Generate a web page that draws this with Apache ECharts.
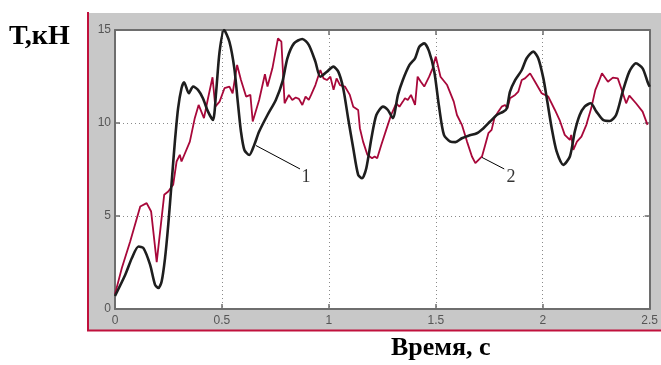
<!DOCTYPE html>
<html><head><meta charset="utf-8">
<script src="https://cdn.jsdelivr.net/npm/echarts@6/dist/echarts.min.js"></script>
<style>html,body{margin:0;padding:0;background:#fff}#c{width:661px;height:365px}</style>
</head><body><div id="c"></div>
<script>
// Series 1 (black)
const t1 = [0,0.048,0.079,0.11,0.133,0.164,0.187,0.203,0.218,0.234,
0.249,0.264,0.28,0.295,0.311,0.323,0.345,0.365,0.388,0.411,
0.435,0.458,0.473,0.489,0.51,0.535,0.558,0.574,0.589,0.605,
0.628,0.651,0.674,0.713,0.752,0.783,0.806,0.837,0.876,0.906,
0.937,0.96,0.991,1.021,1.044,1.067,1.09,1.114,1.137,1.155,
1.175,1.199,1.222,1.253,1.276,1.299,1.323,1.346,1.377,1.403,
1.423,1.446,1.469,1.493,1.515,1.538,1.568,1.592,1.622,1.653,
1.692,1.723,1.754,1.785,1.816,1.832,1.847,1.871,1.902,1.925,
1.956,1.979,2.003,2.019,2.042,2.065,2.096,2.127,2.15,2.173,
2.196,2.224,2.251,2.282,2.313,2.343,2.374,2.405,2.436,2.467,
2.49,2.5];
const v1 = [0.7,1.84,2.74,3.36,3.27,2.38,1.31,1.13,1.48,2.74,
4.53,6.68,9.0,10.79,11.87,12.19,11.6,11.96,11.78,11.33,
10.61,10.16,11.69,13.84,15.0,14.37,12.94,11.15,9.54,8.55,
8.28,8.82,9.54,10.43,11.24,12.22,13.48,14.28,14.52,14.2,
13.3,12.49,12.76,13.03,12.76,11.87,10.26,8.64,7.21,7.03,
7.57,9.18,10.43,10.88,10.7,10.26,11.51,12.31,13.12,13.48,
14.1,14.28,13.84,12.76,10.9,9.36,9.0,8.97,9.18,9.32,
9.45,9.72,10.08,10.43,10.61,10.79,11.69,12.31,12.85,13.48,
13.84,13.48,12.4,11.33,9.72,8.47,7.75,8.2,9.54,10.43,
10.88,11.06,10.61,10.17,10.11,10.43,11.69,12.76,13.21,12.94,
12.22,11.95];
// Series 2 (red)
const t2 = [0,0.032,0.071,0.118,0.148,0.169,0.195,0.23,0.249,0.272,
0.288,0.303,0.311,0.35,0.373,0.391,0.416,0.435,0.456,0.469,
0.489,0.512,0.535,0.55,0.571,0.589,0.613,0.633,0.644,0.674,
0.701,0.713,0.736,0.762,0.778,0.793,0.813,0.829,0.845,0.86,
0.876,0.891,0.906,0.917,0.937,0.96,0.975,0.991,1.007,1.022,
1.036,1.052,1.075,1.098,1.114,1.137,1.145,1.16,1.18,1.202,
1.214,1.226,1.245,1.268,1.291,1.315,1.33,1.346,1.356,1.369,
1.384,1.403,1.415,1.43,1.446,1.469,1.485,1.5,1.522,1.553,
1.584,1.599,1.622,1.646,1.669,1.685,1.7,1.716,1.731,1.746,
1.761,1.774,1.792,1.808,1.824,1.835,1.847,1.871,1.886,1.902,
1.917,1.941,1.964,1.995,2.026,2.057,2.079,2.103,2.127,2.133,
2.143,2.16,2.181,2.204,2.227,2.246,2.262,2.277,2.305,2.328,
2.351,2.367,2.39,2.405,2.436,2.467,2.49];
const v2 = [0.8,2.2,3.63,5.51,5.69,5.24,2.52,6.14,6.32,6.68,
7.93,8.29,7.93,9.0,10.26,10.97,10.26,11.33,12.46,10.88,
11.15,11.87,11.96,11.6,13.12,12.31,11.42,11.51,10.08,11.24,
12.62,11.96,12.94,14.55,14.37,11.06,11.51,11.24,11.37,11.3,
10.97,11.42,11.24,11.51,12.04,12.85,12.4,12.31,12.49,11.78,
12.4,12.04,11.96,11.51,10.88,10.7,9.72,9.0,8.29,8.11,
8.2,8.11,8.82,9.63,10.43,11.06,10.88,11.15,11.33,11.24,
11.51,10.97,12.49,12.22,11.96,12.49,12.94,13.57,12.49,12.04,
11.15,10.43,9.9,9.0,8.2,7.84,8.02,8.2,8.82,9.45,
9.63,10.26,10.61,10.88,10.97,10.79,11.33,11.51,11.69,12.31,
12.4,12.67,12.22,11.6,11.42,10.7,10.16,9.36,9.09,9.36,
8.56,9.0,9.27,9.9,10.8,11.78,12.22,12.67,12.22,12.44,
12.4,11.87,11.06,11.47,11.06,10.61,9.9];
// Axis ticks
const xTicks = [0,0.5,1,1.5,2,2.5];
const yTicks = [0,5,10,15];
// Curve number annotations: leader start, leader end, label position
const callout1 = [[0.659,8.79],[0.865,7.53]];
const callout2 = [[1.716,8.15],[1.82,7.53]];
const calloutLabels = [{name:'1',value:[0.893,7.1]},{name:'2',value:[1.852,7.1]}];

const pairs = (t,v)=>t.map((x,i)=>[x,v[i]]);
const chart = echarts.init(document.getElementById('c'),null,{renderer:'canvas'});
const frameCol = '#6e6e6e';
const axisBase = {
  min: 0, axisLine:{show:true,onZero:false,lineStyle:{color:frameCol,width:2}},
  axisTick:{show:true,inside:true,length:5,lineStyle:{color:frameCol,width:1.5}},
  splitLine:{show:false}
};
chart.setOption({
  animation:false,
  backgroundColor:'#fff',
  graphic:[
    {type:'rect',z:-10,shape:{x:88,y:13,width:573,height:317},style:{fill:'#c8c8c8'}},
    {type:'line',z:-5,shape:{x1:88,y1:12,x2:88,y2:331},style:{stroke:'#c0103c',lineWidth:2}},
    {type:'line',z:-5,shape:{x1:87,y1:330.5,x2:661,y2:330.5},style:{stroke:'#c0103c',lineWidth:2}},
    {type:'text',left:9,top:23,style:{text:'Т,кН',font:'bold 28px "Liberation Serif"',fill:'#000'}},
    {type:'text',left:391,top:335,style:{text:'Время, с',font:'bold 26px "Liberation Serif"',fill:'#000'}}
  ],
  grid:{left:115,right:7,top:30,bottom:56,show:true,backgroundColor:'#fff',borderWidth:0},
  xAxis:[
    Object.assign({},axisBase,{type:'value',max:2.5,interval:0.5,position:'bottom',
      axisLabel:{color:'#555',fontFamily:'Liberation Sans',fontSize:12,margin:6,
        showMaxLabel:true,formatter:v=>xTicks.includes(+v.toFixed(2))?String(+v.toFixed(2)):''},
      splitLine:{show:true,lineStyle:{color:'#8a8a8a',type:[1,3],width:1}}}),
    Object.assign({},axisBase,{type:'value',max:2.5,interval:0.5,position:'top',axisLabel:{show:false}})
  ],
  yAxis:[
    Object.assign({},axisBase,{type:'value',max:15,interval:5,position:'left',
      axisLabel:{color:'#555',fontFamily:'Liberation Sans',fontSize:12,margin:4,
        formatter:v=>yTicks.includes(v)?String(v):''},
      splitLine:{show:true,lineStyle:{color:'#8a8a8a',type:[1,3],width:1}}}),
    Object.assign({},axisBase,{type:'value',max:15,interval:5,position:'right',axisLabel:{show:false}})
  ],
  series:[
    {type:'line',name:'2',data:pairs(t2,v2),showSymbol:false,symbol:'none',
      lineStyle:{color:'#a8083a',width:1.8},z:3},
    {type:'line',name:'1',data:pairs(t1,v1),showSymbol:false,symbol:'none',smooth:0.25,
      lineStyle:{color:'#1e1e1e',width:2.6},z:4},
    {type:'line',data:callout1,showSymbol:false,symbol:'none',lineStyle:{color:'#000',width:1},z:5},
    {type:'line',data:callout2,showSymbol:false,symbol:'none',lineStyle:{color:'#000',width:1},z:5},
    {type:'scatter',data:calloutLabels,symbolSize:0,z:6,
      label:{show:true,position:'inside',formatter:p=>p.name,
        fontFamily:'Liberation Serif',fontSize:18,color:'#000'}}
  ]
});
</script></body></html>
